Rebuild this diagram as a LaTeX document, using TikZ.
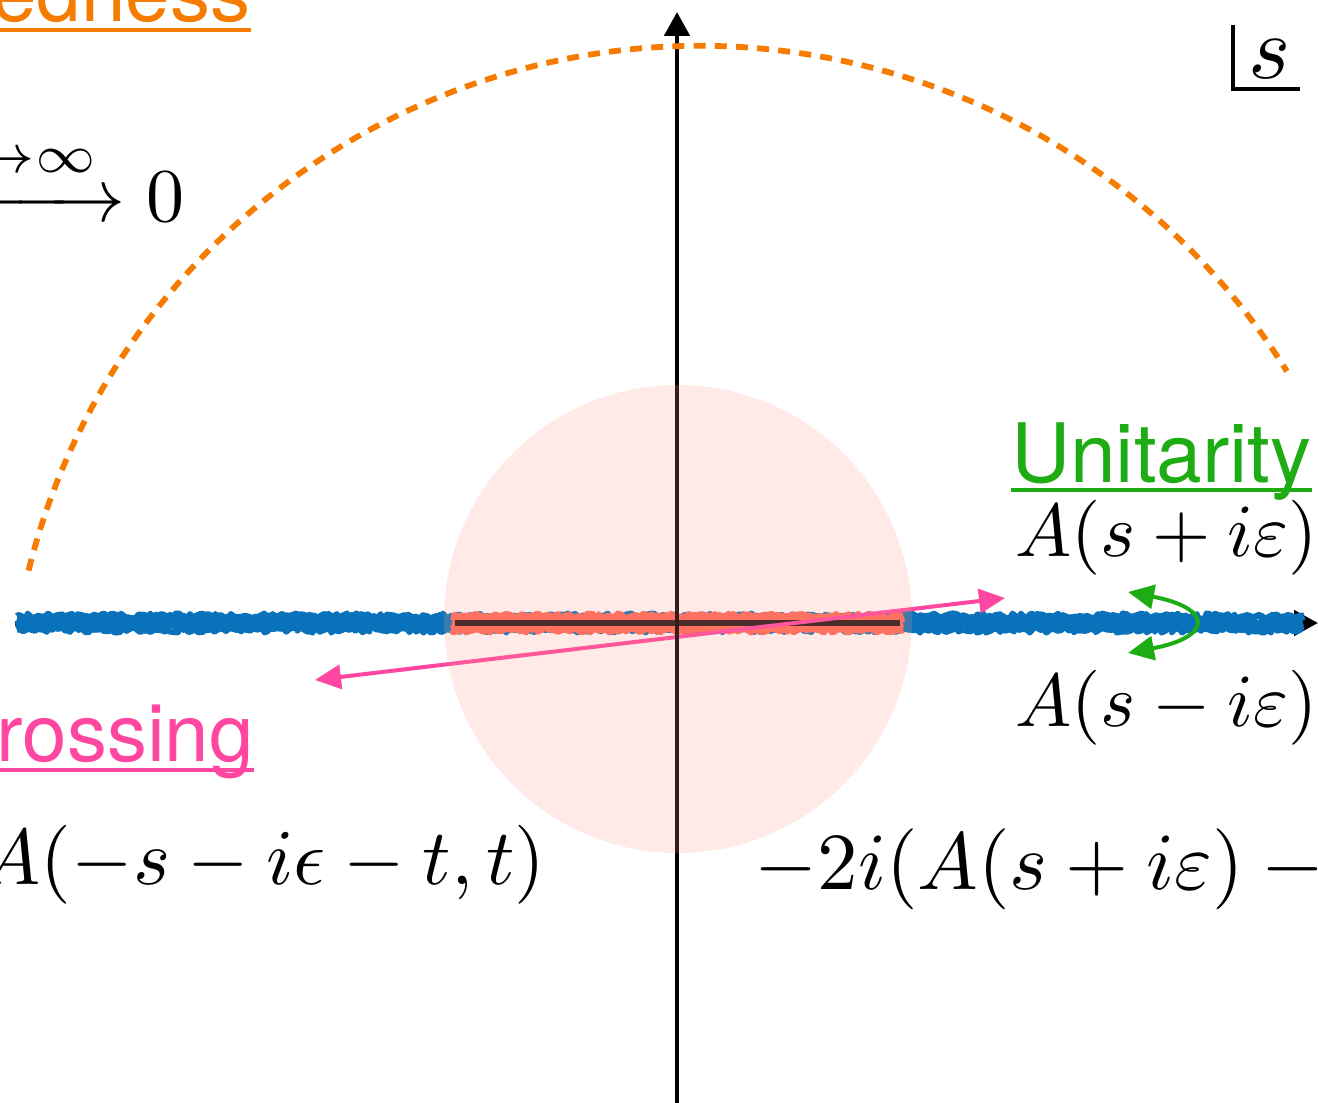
\documentclass[tikz,border=0pt]{standalone}
\usepackage{amsmath}
\usepackage{fontspec}
\newfontfamily\heros{TeX Gyre Heros}
\usetikzlibrary{arrows.meta,decorations.pathmorphing}

\definecolor{bandblue}{RGB}{10,114,187}
\definecolor{bandred}{RGB}{255,105,85}
\definecolor{coreline}{RGB}{30,20,20}
\definecolor{bound}{RGB}{245,124,0}
\definecolor{cross}{RGB}{255,70,160}
\definecolor{unit}{RGB}{30,172,20}
\definecolor{disc}{RGB}{255,150,140}

\newcommand\fsz[1]{\fontsize{#1}{#1}\selectfont}

\begin{document}
\begin{tikzpicture}[
    x=0.5pt, y=0.5pt,
    axis/.style={line width=2.4pt, -{Triangle[length=12pt,width=12.5pt]}},
    cut/.style={
        line width=2.8pt,
        line join=round,
        decorate,
        decoration={random steps, segment length=1.4pt, amplitude=1.3pt}
    },
    ray/.style={line width=2pt, {Triangle[length=13pt,width=12pt]}-{Triangle[length=13pt,width=12pt]}},
    lbl/.style={inner sep=0pt, anchor=base west},
    lblr/.style={inner sep=0pt, anchor=base east},
    rule/.style={line width=2pt}
]
\useasboundingbox (0,0) rectangle (1318,1103);
\clip (0,0) rectangle (1318,1103);
\pgfmathsetseed{7}

% axes and points
\coordinate (O) at (677,480);
\coordinate (xl) at (15,480);
\coordinate (xr) at (1318,480);
\coordinate (yb) at (677,0);
\coordinate (yt) at (677,1091);
\coordinate (cl) at (17,480);
\coordinate (cr) at (1303,480);
\coordinate (rl) at (452,480);
\coordinate (rr) at (903,480);
\coordinate (kl) at (455,480);
\coordinate (kr) at (900,480);
\coordinate (p1) at (315,423);
\coordinate (p2) at (1005,505);
\coordinate (u1) at (1128,511);
\coordinate (u2) at (1128,450);

\draw[axis] (xl) -- (xr);

% cuts
\foreach \dy in {-3.6,-2.4,-1.2,0,1.2,2.4,3.6} {
    \draw[cut, bandblue] ([yshift=\dy pt]cl) -- ([yshift=\dy pt]cr);
}
\foreach \dy in {-3.6,-2.4,-1.2,0,1.2,2.4,3.6} {
    \draw[cut, bandred] ([yshift=\dy pt]rl) -- ([yshift=\dy pt]rr);
}
\draw[line width=3pt, coreline] (kl) -- (kr);

% crossing and unitarity
\draw[ray, cross] (p1) -- (p2);
\draw[ray, unit] (u1) .. controls +(85,-16) and +(85,16) .. (u2);

\draw[axis] (yb) -- (yt);

% boundedness arc
\draw[bound, line width=2.9pt, dash pattern=on 6pt off 4.6pt]
    (700,365) ++(166:692) arc[start angle=166, end angle=32, radius=692];

% low energy disc
\fill[disc, opacity=0.2] (678,484) circle[radius=234];

% s plane
\draw[line width=2pt] (1233,1078) |- (1300,1014);
\node[lbl, scale=4.5] (svar) at (1247,1024) {$s$};

% labels
\node[lbl, text=unit, font=\heros\fsz{41}] (unitarity) at (1011,620) {Unitarity};
\draw[unit, rule] ([yshift=-3.5pt]unitarity.base west) -- ([yshift=-3.5pt]unitarity.base east);
\node[lbl, scale=3.75] (plus) at (1014,546) {$A(s+i\varepsilon)$};
\node[lbl, scale=3.75] (minus) at (1014,376) {$A(s-i\varepsilon)$};
\node[lbl, scale=4.05] (jump) at (753,213) {$-2i(A(s+i\varepsilon)-{}$};

\node[lbl, text=cross, font=\heros\fsz{40}] (crossing) at (-4,341) {rossing};
\draw[cross, rule] ([yshift=-4pt]crossing.base west) -- ([yshift=-4pt]crossing.base east);
\node[lblr, scale=3.95] (crossed) at (547,218) {$A(-s-i\epsilon-t,t)$};

\node[lbl, text=bound, font=\heros\fsz{40}] (bounded) at (-8,1081) {edness};
\draw[bound, rule] ([yshift=-4pt]bounded.base west) -- ([yshift=-4pt]bounded.base east);
\node[lblr, scale=3.8] (limit) at (186,881) {$\xrightarrow{|s|\to\infty}0$};

\end{tikzpicture}
\end{document}
